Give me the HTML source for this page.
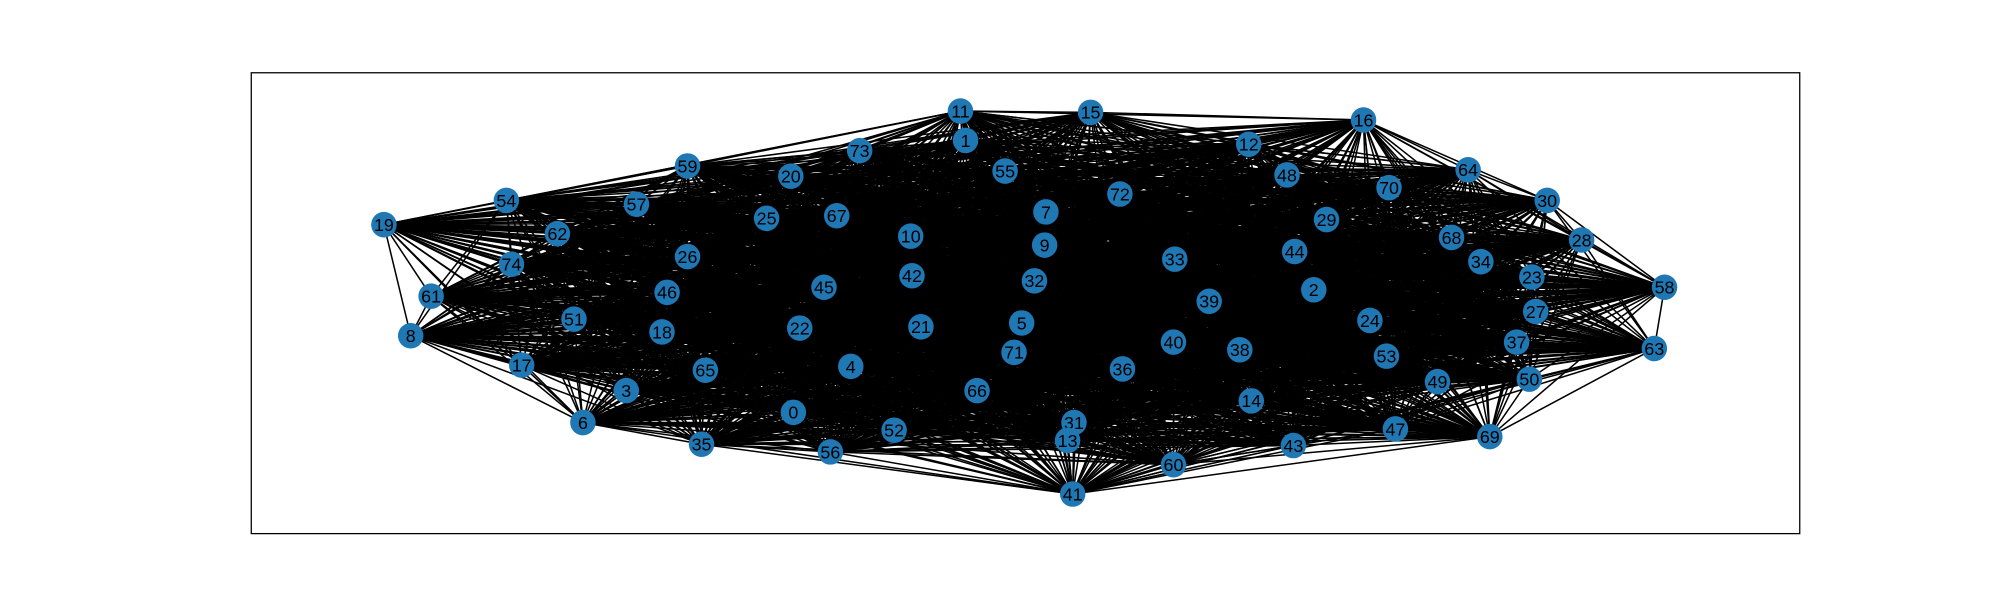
<!DOCTYPE html>
<html><head><meta charset="utf-8">
<style>
html,body{margin:0;padding:0;background:#fff;}
svg{display:block;}
text{font-family:"Liberation Sans",sans-serif;}
</style></head>
<body>
<svg id="chart" width="2000" height="600" viewBox="0 0 1568 470" preserveAspectRatio="none" xmlns="http://www.w3.org/2000/svg">
<rect x="197" y="57" width="1214" height="361" fill="none" stroke="#000" stroke-width="1"/>
<g id="edges"></g>
<g id="nodes"></g>
</svg>
<script>
const nodeIds = [11,15,16,1,73,12,59,20,55,48,64,54,57,72,70,30,7,67,25,29,19,62,10,9,68,28,33,44,74,26,42,32,34,23,58,45,46,61,2,39,27,51,5,24,22,21,18,8,40,38,37,63,71,53,17,65,4,36,50,49,3,66,14,0,31,47,6,52,69,13,43,35,56,60,41];
const nodeX = [753,855,1069,757,674,979,539,620,788,1009,1151,397,499,878,1089,1213,820,656,601,1040,301,437,714,819,1138,1240,921,1015,401,539,715,811,1161,1201,1305,646,523,338,1030,948,1204,450,801,1074,627,722,519,322,920,972,1189,1297,795,1087,409,553,667,880,1199,1127,491,766,981,622,842,1094,457,701,1168,837,1014,550,651,920,841];
const nodeY = [87,88,94,110,118,113,130,138,134,137,133,157,160,152,147,157,166,169,171,172,176,183,185,192,186,188,203,197,207,201,216,220,205,217,225,225,229,232,227,236,244,250,253,251,257,256,260,263,268,274,268,273,276,279,286,290,287,289,297,299,306,306,314,323,331,336,331,337,342,345,349,348,354,364,387];
const NS="http://www.w3.org/2000/svg";
const eg=document.getElementById('edges'), ng=document.getElementById('nodes');
for(let i=0;i<nodeIds.length;i++){
  for(let j=i+1;j<nodeIds.length;j++){
    const l=document.createElementNS(NS,'line');
    l.setAttribute('x1',nodeX[i]);l.setAttribute('y1',nodeY[i]);
    l.setAttribute('x2',nodeX[j]);l.setAttribute('y2',nodeY[j]);
    l.setAttribute('stroke','#000');l.setAttribute('stroke-width','1.2');
    
    
    eg.appendChild(l);
  }
}
for(let i=0;i<nodeIds.length;i++){
  const c=document.createElementNS(NS,'circle');
  c.setAttribute('cx',nodeX[i]);c.setAttribute('cy',nodeY[i]);c.setAttribute('r','10');
  c.setAttribute('fill','#1f77b4');
  
  
  ng.appendChild(c);
  const t=document.createElementNS(NS,'text');
  t.setAttribute('x',nodeX[i]);t.setAttribute('y',nodeY[i]+5);
  t.setAttribute('text-anchor','middle');t.setAttribute('font-size','14');
  t.setAttribute('fill','#000');
  t.textContent=nodeIds[i];
  
  
  ng.appendChild(t);
}
</script>
</body></html>
